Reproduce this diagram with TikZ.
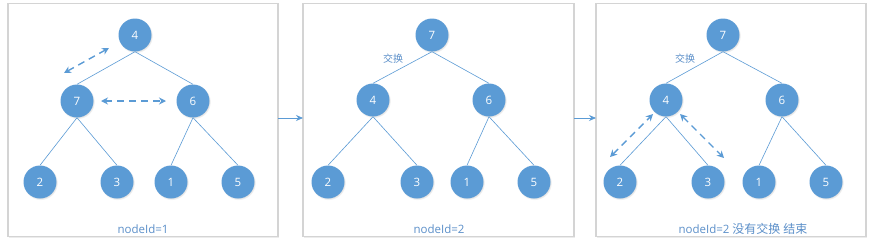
\documentclass[tikz,border=0pt]{standalone}
\usepackage{fontspec}
\setmainfont{Open Sans}
\newfontfamily\cjk{Noto Sans CJK SC}
\usetikzlibrary{arrows.meta,shadows}
\definecolor{nblue}{HTML}{5B9BD5}
\definecolor{tblue}{HTML}{5B8FC9}
\definecolor{boxgray}{HTML}{D4D4D4}
\tikzset{
  panel/.style={draw=boxgray, line width=1.2pt, fill=white, drop shadow={shadow xshift=1pt, shadow yshift=-1.5pt, opacity=0.15}},
  hnode/.style={circle, fill=nblue, minimum size=33pt, inner sep=0pt, text=white, font=\fontsize{11.5}{13}\selectfont, circular drop shadow={shadow xshift=0.6pt, shadow yshift=-0.8pt, opacity=0.25, shadow scale=1.05}},
  edge/.style={draw=nblue, line width=0.6pt},
  swap/.style={draw=nblue, line width=1.4pt, dash pattern=on 7pt off 5pt, {Stealth[length=7pt,width=7pt]}-{Stealth[length=7pt,width=7pt]}},
  flow/.style={draw=nblue, line width=0.8pt, -{Stealth[length=7pt,width=6pt]}},
  lbl/.style={text=tblue, font=\fontsize{11.5}{13}\selectfont, inner sep=0pt},
  cn/.style={text=tblue, font=\cjk\fontsize{10}{12}\selectfont, inner sep=0pt}
}
\begin{document}
\begin{tikzpicture}[x=1pt,y=-1pt]
\useasboundingbox (0,0) rectangle (875,244);
% panels
\node[panel, minimum width=270pt, minimum height=233pt, inner sep=0pt] (p1) at (143,120) {};
\node[panel, minimum width=271pt, minimum height=233pt, inner sep=0pt] (p2) at (438.5,120) {};
\node[panel, minimum width=270pt, minimum height=233pt, inner sep=0pt] (p3) at (731,120) {};
\coordinate (p1e) at (278,118);
\coordinate (p2w) at (303,118);
\coordinate (p2e) at (574,118);
\coordinate (p3w) at (596,118);
\draw[flow] (p1e) -- (p2w);
\draw[flow] (p2e) -- (p3w);

% panel 1
\node[hnode] (a1) at (135,35) {4};
\node[hnode] (a2) at (77,101) {7};
\node[hnode] (a3) at (193,101) {6};
\node[hnode] (a4) at (40,182) {2};
\node[hnode] (a5) at (117,182) {3};
\node[hnode] (a6) at (171,182) {1};
\node[hnode] (a7) at (238,182) {5};
\draw[edge] (a1.south) -- (a2.north) (a1.south) -- (a3.north)
            (a2.south) -- (a4.north) (a2.south) -- (a5.north)
            (a3.south) -- (a6.north) (a3.south) -- (a7.north);
\coordinate (s1a) at (64,73);
\coordinate (s1b) at (109,48);
\draw[swap] (s1a) -- (s1b);
\coordinate (s2a) at (101,101);
\coordinate (s2b) at (166,101);
\draw[swap] (s2a) -- (s2b);
\node[lbl] (t1) at (143,229) {nodeId=1};

% panel 2
\node[hnode] (b1) at (432,35) {7};
\node[hnode] (b2) at (373,100) {4};
\node[hnode] (b3) at (489,100) {6};
\node[hnode] (b4) at (328,182) {2};
\node[hnode] (b5) at (417,182) {3};
\node[hnode] (b6) at (467,182) {1};
\node[hnode] (b7) at (534,182) {5};
\draw[edge] (b1.south) -- (b2.north) (b1.south) -- (b3.north)
            (b2.south) -- (b4.north) (b2.south) -- (b5.north)
            (b3.south) -- (b6.north) (b3.south) -- (b7.north);
\node[cn] (x2) at (393,59) {交换};
\node[lbl] (t2) at (439,229) {nodeId=2};

% panel 3
\node[hnode] (c1) at (723,35) {7};
\node[hnode] (c2) at (666,100) {4};
\node[hnode] (c3) at (782,100) {6};
\node[hnode] (c4) at (620,182) {2};
\node[hnode] (c5) at (708,182) {3};
\node[hnode] (c6) at (759,182) {1};
\node[hnode] (c7) at (826,182) {5};
\draw[edge] (c1.south) -- (c2.north) (c1.south) -- (c3.north)
            (c2.south) -- (c4.north) (c2.south) -- (c5.north)
            (c3.south) -- (c6.north) (c3.south) -- (c7.north);
\node[cn] (x3) at (685,59) {交换};
\coordinate (s3a) at (610,157);
\coordinate (s3b) at (653,114);
\draw[swap] (s3a) -- (s3b);
\coordinate (s4a) at (680,114);
\coordinate (s4b) at (724,158);
\draw[swap] (s4a) -- (s4b);
\node[lbl] (t3) at (743,229) {nodeId=2 {\cjk\fontsize{12}{14}\selectfont 没有交换} {\cjk\fontsize{12}{14}\selectfont 结束}};
\end{tikzpicture}
\end{document}
